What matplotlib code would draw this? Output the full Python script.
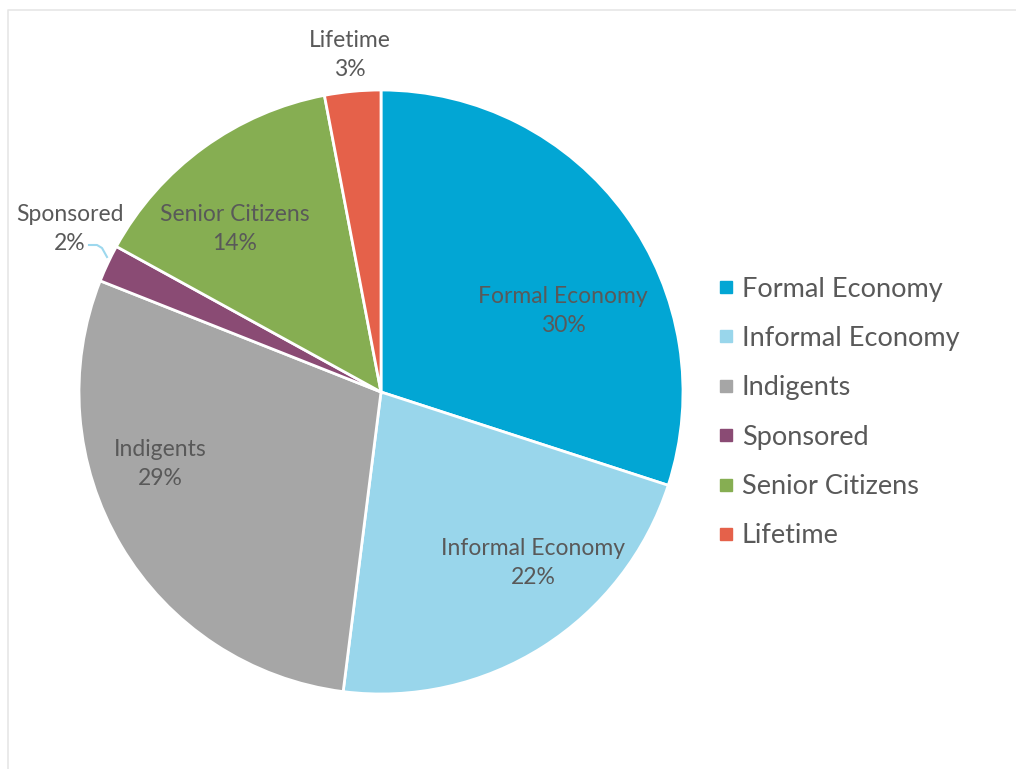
import matplotlib.pyplot as plt
from matplotlib.lines import Line2D

plt.rcParams['font.family'] = ['Lato', 'DejaVu Sans']

categories = ['Formal Economy', 'Informal Economy', 'Indigents',
              'Sponsored', 'Senior Citizens', 'Lifetime']
shares = [30, 22, 29, 2, 14, 3]
colors = ['#02A6D4', '#99D6EB', '#A6A6A6', '#8A4B74', '#86AE52', '#E5614A']

# label centres in pixels (x from left, y from top)
label_px = [(563, 311), (533, 563), (160, 464), (70, 229), (235, 229), (350, 55)]

W, H = 1016, 769
fig = plt.figure(figsize=(W / 100, H / 100), dpi=100)

cx, cy, r = 381, 392, 302
ax = fig.add_axes([(cx - r) / W, (H - cy - r) / H, 2 * r / W, 2 * r / H])
ax.pie(shares, colors=colors, startangle=90, counterclock=False, radius=1,
       wedgeprops=dict(edgecolor='white', linewidth=2))
ax.set_xlim(-1, 1)
ax.set_ylim(-1, 1)
ax.set_aspect('auto')
ax.axis('off')

for name, val, (px, py) in zip(categories, shares, label_px):
    fig.text(px / W, 1 - py / H, f'{name}\n{val}%', ha='center', va='center',
             fontsize=16.5, color='#595959', linespacing=1.5)

# leader line for the small slice
fig.add_artist(Line2D([89 / W, 97 / W, 102 / W, 107 / W],
                      [1 - 245 / H, 1 - 245 / H, 1 - 248 / H, 1 - 257 / H],
                      color='#9DD8EE', lw=1.5))

handles = [Line2D([], [], marker='s', linestyle='none', markersize=8.5,
                  markerfacecolor=c, markeredgecolor=c) for c in colors]
fig.legend(handles, categories, loc='upper left',
           bbox_to_anchor=(704 / W, 1 - 263 / H), frameon=False,
           fontsize=19.5, labelcolor='#595959', handlelength=0.6,
           handletextpad=0.3, labelspacing=0.9, borderpad=0)

# thin frame around the chart area
fig.add_artist(Line2D([8 / W, 8 / W, 1], [0, 1 - 10 / H, 1 - 10 / H],
                      color='#E6E6E6', lw=1.2))

fig.savefig('out.png', dpi=100)
